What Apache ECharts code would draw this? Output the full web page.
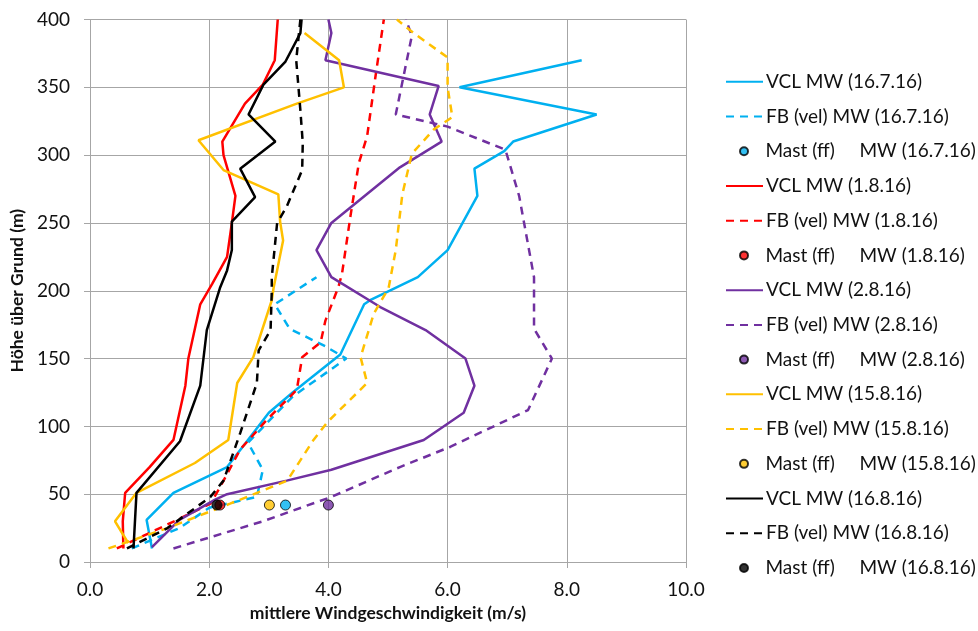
<!DOCTYPE html>
<html><head><meta charset="utf-8">
<script src="https://cdn.jsdelivr.net/npm/echarts@6/dist/echarts.min.js"></script>
<style>html,body{margin:0;padding:0;background:#fff}#c{width:978px;height:631px}</style>
</head><body><div id="c"></div>
<script>
// Tick labels
const xTicks = [0, 2, 4, 6, 8, 10];
const yTicks = [0, 50, 100, 150, 200, 250, 300, 350, 400];
const days = ['16.7.16', '1.8.16', '2.8.16', '15.8.16', '16.8.16'];
const colors = ['#00B0F0', '#FF0000', '#7030A0', '#FFC000', '#000000'];

// [wind speed m/s, height m]
const vcl_16_7 = [[1.04,10],[0.95,31],[1.4,51],[2.3,70],[2.65,90],[3.0,110],[3.4,125],[4.2,153],[4.6,190],[4.7,193],[5.5,210],[6.0,230],[6.5,270],[6.45,290],[6.95,303],[7.1,310],[8.5,330],[6.2,350],[8.25,370]];
const fb_16_7 = [[0.7,10],[1.5,25],[2.0,40],[2.8,48],[2.9,68],[2.65,88],[3.4,122],[4.3,150],[3.95,159],[3.35,172],[3.1,190],[3.8,210]];
const mast_16_7 = [[3.28,42]];

const vcl_1_8 = [[0.56,10],[0.55,30],[0.59,51],[1.0,70],[1.4,90],[1.6,130],[1.65,150],[1.85,190],[2.05,205],[2.3,225],[2.38,250],[2.44,270],[2.24,300],[2.22,310],[2.6,338],[2.9,352],[3.1,370],[3.15,400]];
const fb_1_8 = [[0.45,10],[1.46,31],[2.02,43],[2.18,55],[2.52,83],[2.97,105],[3.47,127],[3.56,151],[3.87,162],[3.95,178],[4.17,203],[4.23,213],[4.37,255],[4.51,294],[4.65,314],[4.79,358],[4.93,400]];
const mast_1_8 = [[2.18,42]];

const vcl_2_8 = [[1.04,11],[1.5,31],[2.1,46],[2.3,50],[3.3,60],[4.05,68],[5.6,90],[6.27,110],[6.45,130],[6.3,150],[5.63,171],[4.87,188],[4.05,210],[3.8,230],[4.05,250],[5.2,291],[5.9,310],[5.7,330],[5.85,351],[3.95,370],[4.05,390],[4.0,400]];
const fb_2_8 = [[1.4,10],[2.9,30],[4.05,48],[5.2,70],[6.05,85],[7.35,112],[7.75,150],[7.45,172],[7.45,210],[7.2,270],[6.97,304],[6.0,321],[5.13,330],[5.4,388],[5.3,400]];
const mast_2_8 = [[4.0,42]];

const vcl_15_8 = [[0.64,14],[0.42,30],[0.78,51],[1.76,73],[2.32,90],[2.47,132],[2.74,151],[3.05,193],[3.08,202],[3.24,237],[3.19,251],[3.16,271],[2.24,289],[1.82,311],[3.47,338],[4.26,350],[4.18,370],[3.6,390]];
const fb_15_8 = [[0.31,10],[1.3,25],[2.35,43],[3.31,60],[3.75,90],[3.98,103],[4.65,132],[4.54,151],[4.76,183],[5.01,202],[5.13,230],[5.24,271],[5.4,301],[5.77,319],[6.08,328],[6.0,350],[6.0,372],[5.43,390],[5.15,400]];
const mast_15_8 = [[3.01,42]];

const vcl_16_8 = [[0.73,10],[0.78,51],[1.51,89],[1.85,130],[1.96,171],[2.18,202],[2.3,215],[2.38,230],[2.38,251],[2.77,269],[2.52,290],[3.11,310],[2.66,330],[2.91,352],[3.28,369],[3.53,390],[3.55,400]];
const fb_16_8 = [[0.62,10],[1.3,25],[2.02,48],[2.24,60],[2.52,95],[2.8,132],[2.83,156],[3.03,171],[3.05,200],[3.05,210],[3.14,250],[3.3,262],[3.56,289],[3.57,309],[3.53,333],[3.46,370],[3.53,400]];
const mast_16_8 = [[2.13,42]];

const vclData = [vcl_16_7, vcl_1_8, vcl_2_8, vcl_15_8, vcl_16_8];
const fbData = [fb_16_7, fb_1_8, fb_2_8, fb_15_8, fb_16_8];
const mastData = [mast_16_7, mast_1_8, mast_2_8, mast_15_8, mast_16_8];

const FONT = 'Lato';
const series = [];
const legends = [];
const rowGap = 34.74, top0 = 81.7, LFS = 19;
let row = 0;
function addLegend(name, isMast) {
  const yc = top0 + row * rowGap;
  const h = isMast ? 8 : 14;
  const boxH = Math.max(h, LFS);
  const lg = {
    data: [name],
    orient: 'vertical', left: isMast ? 739 : 725, top: yc - boxH / 2, padding: 0,
    itemWidth: 37, itemHeight: h, itemGap: 0,
    textStyle: {fontFamily: FONT, fontSize: LFS, color: '#111', padding: [0, 0, 0, -2],
      rich: {a: {fontFamily: FONT, fontSize: LFS, color: '#111'},
             b: {fontFamily: FONT, fontSize: LFS, color: '#111', padding: [0, 0, 0, 15]}}},
    selectedMode: false
  };
  if (isMast) {
    lg.formatter = function (n) {
      const k = n.indexOf('  ');
      return '{a|' + n.slice(0, k + 2) + '}{b|' + n.slice(k + 2) + '}';
    };
  } else {
    lg.itemStyle = {opacity: 0};
  }
  legends.push(lg);
  row++;
}
days.forEach((d, i) => {
  const n1 = 'VCL MW (' + d + ')', n2 = 'FB (vel) MW (' + d + ')', n3 = 'Mast (ff)  MW (' + d + ')';
  series.push({name: n1, type: 'line', data: vclData[i], symbol: 'none', color: colors[i],
    lineStyle: {width: 2.5, color: colors[i]}, z: 3});
  series.push({name: n2, type: 'line', data: fbData[i], symbol: 'none', color: colors[i],
    lineStyle: {width: 2.5, color: colors[i], type: [8, 6]}, z: 3});
  series.push({name: n3, type: 'scatter', data: mastData[i], symbol: 'circle', symbolSize: 10,
    itemStyle: {color: colors[i], borderColor: '#000', borderWidth: 1}, z: 5});
  addLegend(n1, false); addLegend(n2, false); addLegend(n3, true);
});

const chart = echarts.init(document.getElementById('c'));
chart.setOption({
  animation: false,
  grid: {left: 90, right: 292, top: 19.5, bottom: 69},
  legend: legends,
  xAxis: {
    type: 'value', min: 0, max: 10, interval: 2,
    name: 'mittlere Windgeschwindigkeit (m/s)', nameLocation: 'middle', nameGap: 41,
    nameTextStyle: {fontFamily: FONT, fontSize: 17.5, fontWeight: 'bold', color: '#111'},
    axisLine: {show: true, lineStyle: {color: '#A6A6A6'}},
    axisTick: {show: true, length: 6, lineStyle: {color: '#A6A6A6'}},
    axisLabel: {fontFamily: FONT, fontSize: 19, color: '#111', margin: 18, formatter: v => v.toFixed(1)},
    splitLine: {show: true, lineStyle: {color: '#A6A6A6', width: 1}}
  },
  yAxis: {
    type: 'value', min: 0, max: 400, interval: 50,
    name: 'Höhe über Grund (m)', nameLocation: 'middle', nameGap: 58,
    nameTextStyle: {fontFamily: FONT, fontSize: 17.5, fontWeight: 'bold', color: '#111'},
    axisLine: {show: true, lineStyle: {color: '#A6A6A6'}},
    axisTick: {show: true, length: 6, lineStyle: {color: '#A6A6A6'}},
    axisLabel: {fontFamily: FONT, fontSize: 19, color: '#111', margin: 20},
    splitLine: {show: true, lineStyle: {color: '#A6A6A6', width: 1}}
  },
  series: series
});
</script></body></html>
